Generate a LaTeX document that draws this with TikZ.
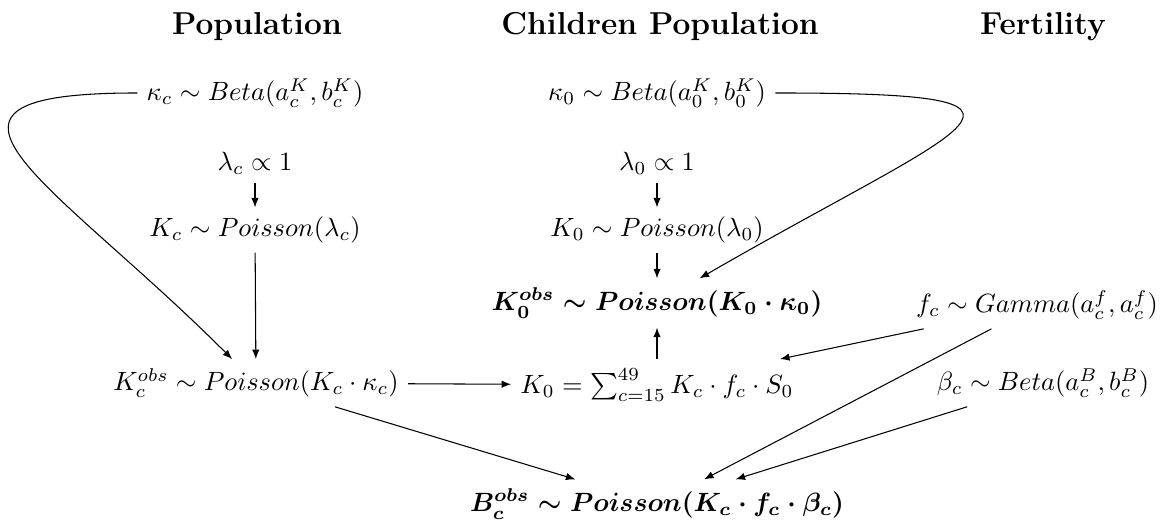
\documentclass[tikz,border=0pt]{standalone}
\usepackage{amsmath, amssymb}
\usepackage{tikz}
\usetikzlibrary{arrows.meta}

\begin{document}
\begin{tikzpicture}[x=1.33cm, y=1.33cm, >={Latex[length=3.6pt, width=2.8pt]}, title/.style={font=\large\bfseries}]
	\useasboundingbox (0,0) rectangle (11.67,5.20);
	
	% column titles
	\node[title] (tpop) at (2.57,4.93) {Population};
	\node[title] (tchild) at (6.60,4.93) {Children Population};
	\node[title] (tfert) at (10.43,4.93) {Fertility};
	
	% population column
	\node (kappac) at (2.55,4.27) {$\kappa_c \sim Beta(a_c^K, b_c^K)$};
	\node (lamc) at (2.55,3.57) {$\lambda_c \propto 1$};
	\node (Kc) at (2.55,2.90) {$K_c \sim Poisson(\lambda_c)$};
	\node (Kcobs) at (2.56,1.37) {$K_c^{obs} \sim Poisson(K_c \cdot \kappa_c)$};
	
	% children column
	\node (kappa0) at (6.57,4.27) {$\kappa_0 \sim Beta(a_0^K, b_0^K)$};
	\node (lam0) at (6.57,3.57) {$\lambda_0 \propto 1$};
	\node (K0) at (6.57,2.90) {$K_0 \sim Poisson(\lambda_0)$};
	\node (K0obs) at (6.57,2.17) {$\boldsymbol{K_0^{obs} \sim Poisson(K_0 \cdot \kappa_0)}$};
	\node (K0sum) at (6.57,1.35) {$K_0 = \sum_{c=15}^{49} K_c \cdot f_c \cdot S_0$};
	
	% fertility column
	\node (fc) at (10.37,2.15) {$f_c \sim Gamma(a_c^f, a_c^f)$};
	\node (betac) at (10.43,1.37) {$\beta_c \sim Beta(a_c^B, b_c^B)$};
	
	% births
	\node (Bcobs) at (6.57,0.16) {$\boldsymbol{B_c^{obs} \sim Poisson(K_c \cdot f_c \cdot \beta_c)}$};
	
	% straight arrows
	\draw[->] (lamc) -- (Kc);
	\draw[->] (Kc) -- (Kcobs);
	\draw[->] (lam0) -- (K0);
	\draw[->] (K0) -- (K0obs);
	\draw[->] (K0sum) -- (K0obs);
	\draw[->] (Kcobs) -- (K0sum);
	\draw[->] (fc) -- (K0sum);
	\draw[->] (Kcobs) -- (Bcobs);
	\draw[->] (fc) -- (Bcobs);
	\draw[->] (betac) -- (Bcobs);
	
	% detection rates (bent)
	\draw[->] (kappac.west) to[out=180, in=135, looseness=2.3] (Kcobs);
	\draw[->] (kappa0.east) to[out=0, in=30, looseness=4] (K0obs);
\end{tikzpicture}
\end{document}
